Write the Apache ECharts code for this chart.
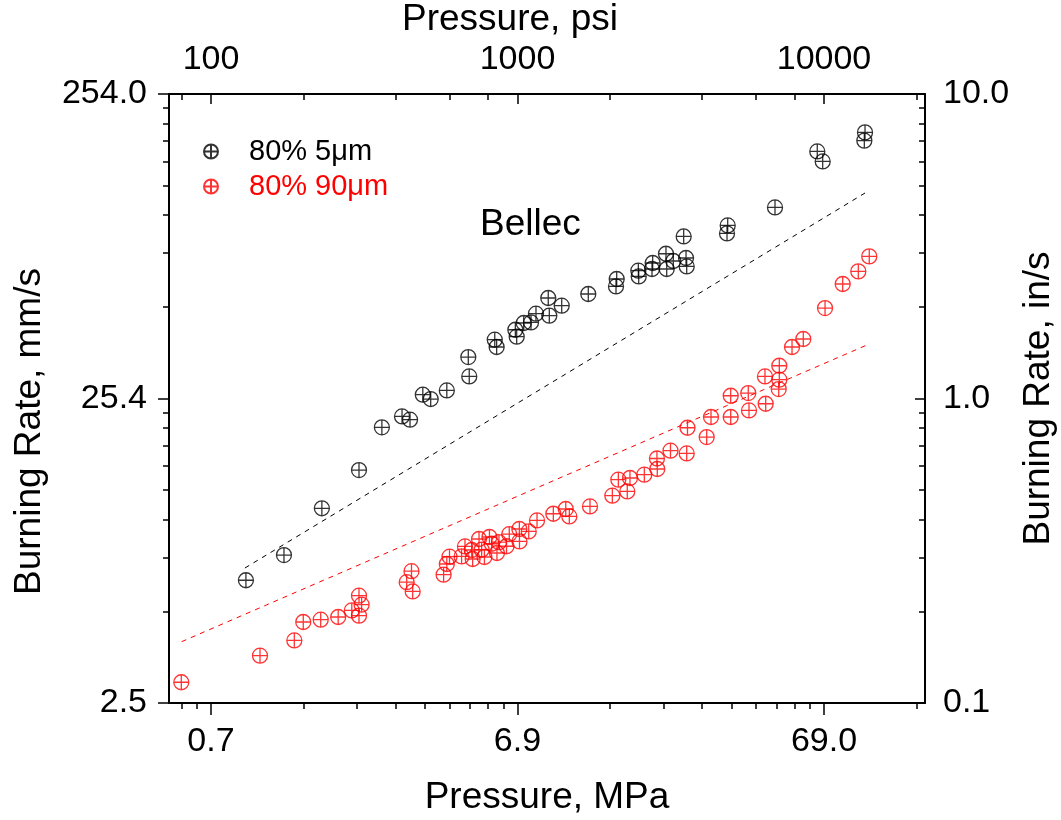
<!DOCTYPE html>
<html>
<head>
<meta charset="utf-8">
<script src="https://cdn.jsdelivr.net/npm/echarts@6/dist/echarts.min.js"></script>
<style>
  html, body { margin: 0; padding: 0; background: #fff; }
  #chart { width: 1061px; height: 820px; }
</style>
</head>
<body>
<div id="chart"></div>
<script>
// pressure in psi, burning rate in in/s
var fineP = [130, 173, 230, 304, 361, 420, 446, 491, 521, 588, 691, 696, 843, 855, 984, 994, 1048, 1107, 1149, 1260,
             1270, 1394, 1702, 2107, 2096, 2479, 2486, 2761, 2747, 3051, 3068, 3224, 3547, 3565, 3485, 4851, 4826, 6921, 9508, 9903,
             13610, 13540];
var fineR = [0.253, 0.306, 0.436, 0.582, 0.804, 0.873, 0.852, 1.029, 0.996, 1.063, 1.368, 1.182, 1.560, 1.476, 1.682, 1.596, 1.770, 1.778, 1.899, 2.138,
             1.870, 2.017, 2.204, 2.469, 2.334, 2.629, 2.518, 2.786, 2.662, 2.988, 2.662, 2.828, 2.893, 2.715, 3.405, 3.702, 3.484, 4.241, 6.477, 6.006,
             7.481, 7.026];

var coarseP = [80, 144.5, 187, 200, 228, 260, 288, 304, 310, 304, 435, 451, 455, 574, 588, 600, 657, 674, 714, 709,
               749, 764, 780, 810, 824, 857, 870, 921, 940, 1015, 1014, 1088, 1158, 1309, 1437, 1476, 1724, 2039, 2133, 2281,
               2328, 2593, 2851, 2858, 3156, 3565, 3586, 4143, 4279, 4962, 4962, 5693, 5662, 6453, 6419, 7149, 7149, 7117, 7865, 8560,
               10080, 11510, 12940, 14050];
var coarseR = [0.117, 0.143, 0.1605, 0.1845, 0.1878, 0.1916, 0.2014, 0.2251, 0.2103, 0.1935, 0.2493, 0.2709, 0.2325, 0.2638, 0.2861, 0.3023, 0.303, 0.3267, 0.2971, 0.318,
               0.3456, 0.3187, 0.3016, 0.3509, 0.3334, 0.3109, 0.3373, 0.3272, 0.3584, 0.3394, 0.3727, 0.366, 0.3978, 0.4183, 0.4336, 0.41, 0.4422, 0.4795, 0.5412, 0.4953,
               0.5482, 0.5621, 0.6353, 0.5868, 0.6739, 0.6603, 0.8017, 0.7472, 0.8694, 0.8694, 1.021, 0.914, 1.042, 0.961, 1.182, 1.281, 1.153, 1.074, 1.476, 1.568,
               1.982, 2.377, 2.615, 2.929];

// dashed fit lines, end points
var fineFitP = [129, 13610];
var fineFitR = [0.2775, 4.73];
var coarseFitP = [80.2, 14130];
var coarseFitR = [0.159, 1.514];

// ticks and labels
var psiTicks = [100, 1000, 10000];
var mpaLabels = ['0.7', '6.9', '69.0'];
var psiLabels = ['100', '1000', '10000'];
var psiMinorBottom = [80, 90, 200, 300, 400, 500, 600, 700, 800, 900, 2000, 3000, 4000, 5000, 6000, 7000, 8000, 9000, 20000];
var psiMinorTop = [80, 200, 400, 600, 800, 2000, 4000, 6000, 8000, 20000];
var rateTicks = [0.1, 1, 10];
var mmsLabels = ['2.5', '25.4', '254.0'];
var insLabels = ['0.1', '1.0', '10.0'];
var rateMinor = [0.2, 0.3, 0.4, 0.5, 0.6, 0.7, 0.8, 0.9, 2, 3, 4, 5, 6, 7, 8, 9];

var names = ['80% 5\u03bcm', '80% 90\u03bcm'];

var FONT = '"Liberation Sans", Arial, sans-serif';
var PMIN = 72.94, PMAX = 21358;
var RMIN = 0.1, RMAX = 10;
var marker = 'path://M10,0A10,10,0,1,1,10,20A10,10,0,1,1,10,0ZM0,10L20,10M10,0L10,20';

function zip(a, b) {
    return a.map(function (v, i) { return [v, b[i]]; });
}
function pick(ticks, labels) {
    return function (v) {
        for (var i = 0; i < ticks.length; i++) {
            if (Math.abs(Math.log10(v / ticks[i])) < 0.01) return labels[i];
        }
        return '';
    };
}

function xAxis(pos, ticks, len, inside, labels) {
    return {
        type: 'log', position: pos, min: PMIN, max: PMAX,
        axisLine: { show: !!labels, onZero: false, lineStyle: { color: '#000', width: 2 } },
        axisTick: { show: true, customValues: ticks, length: len, inside: inside, lineStyle: { color: '#000', width: 1.5 } },
        axisLabel: labels ? {
            customValues: ticks, formatter: pick(ticks, labels),
            color: '#000', fontSize: 34, fontFamily: FONT, margin: pos === 'top' ? 17 : 22
        } : { show: false },
        splitLine: { show: false }, minorTick: { show: false }
    };
}
function yAxis(pos, ticks, len, inside, labels) {
    return {
        type: 'log', position: pos, min: RMIN, max: RMAX,
        axisLine: { show: !!labels, onZero: false, lineStyle: { color: '#000', width: 2 } },
        axisTick: { show: true, customValues: ticks, length: len, inside: inside, lineStyle: { color: '#000', width: 1.5 } },
        axisLabel: labels ? {
            customValues: ticks, formatter: pick(ticks, labels),
            color: '#000', fontSize: 34, fontFamily: FONT, margin: pos === 'left' ? 22 : 18
        } : { show: false },
        splitLine: { show: false }, minorTick: { show: false }
    };
}

var xa = [
    xAxis('bottom', psiTicks, 12, false, mpaLabels),
    xAxis('bottom', psiMinorBottom, 6, false, null),
    xAxis('top', psiTicks, 10, true, psiLabels),
    xAxis('top', psiMinorTop, 6, true, null)
];
xa[0].name = 'Pressure, MPa';
xa[0].nameLocation = 'middle';
xa[0].nameGap = 76;
xa[0].nameTextStyle = { fontSize: 37, fontFamily: FONT, color: '#000' };
xa[2].name = 'Pressure, psi';
xa[2].nameLocation = 'middle';
xa[2].nameGap = 45;
xa[2].nameTextStyle = { fontSize: 37, fontFamily: FONT, color: '#000', padding: [0, 74, 0, 0] };

var ya = [
    yAxis('left', rateTicks, 11, false, mmsLabels),
    yAxis('left', rateMinor, 6, false, null),
    yAxis('right', rateTicks, 10, true, insLabels),
    yAxis('right', rateMinor, 6, true, null)
];
ya[0].name = 'Burning Rate, mm/s';
ya[0].nameLocation = 'middle';
ya[0].nameGap = 121;
ya[0].nameTextStyle = { fontSize: 37, fontFamily: FONT, color: '#000', padding: [0, 66, 0, 0] };
ya[2].name = 'Burning Rate, in/s';
ya[2].nameLocation = 'middle';
ya[2].nameGap = 90;
ya[2].nameTextStyle = { fontSize: 37, fontFamily: FONT, color: '#000' };

var chart = echarts.init(document.getElementById('chart'));
chart.setOption({
    animation: false,
    backgroundColor: '#fff',
    grid: { left: 169, right: 136, top: 94, bottom: 117, containLabel: false, outerBoundsMode: 'none' },
    xAxis: xa,
    yAxis: ya,
    legend: {
        orient: 'vertical', left: 203, top: 137, padding: 0,
        itemWidth: 14, itemHeight: 14, itemGap: 6,
        textStyle: { fontSize: 29, fontFamily: FONT, padding: [0, 0, 0, 26] },
        data: [
            { name: names[0], textStyle: { color: '#000' } },
            { name: names[1], textStyle: { color: '#ff0000' } }
        ]
    },
    graphic: [{
        type: 'text', left: 480, top: 206,
        style: { text: 'Bellec', fontSize: 37, fontFamily: FONT, fill: '#000' }
    }],
    series: [
        {
            name: 'fit5', type: 'line', data: zip(fineFitP, fineFitR), showSymbol: false, silent: true,
            lineStyle: { color: '#000', width: 1, type: [5, 5] }
        },
        {
            name: 'fit90', type: 'line', data: zip(coarseFitP, coarseFitR), showSymbol: false, silent: true,
            lineStyle: { color: '#ff0000', width: 1, type: [5, 5] }
        },
        {
            name: names[1], type: 'scatter', data: zip(coarseP, coarseR),
            symbol: marker, symbolSize: 15, symbolKeepAspect: true,
            itemStyle: { color: 'rgba(0,0,0,0)', borderColor: '#ff0000', borderWidth: 1.3 }
        },
        {
            name: names[0], type: 'scatter', data: zip(fineP, fineR),
            symbol: marker, symbolSize: 15, symbolKeepAspect: true,
            itemStyle: { color: 'rgba(0,0,0,0)', borderColor: '#000', borderWidth: 1.3 }
        }
    ]
});
window.addEventListener('resize', chart.resize);
</script>
</body>
</html>
